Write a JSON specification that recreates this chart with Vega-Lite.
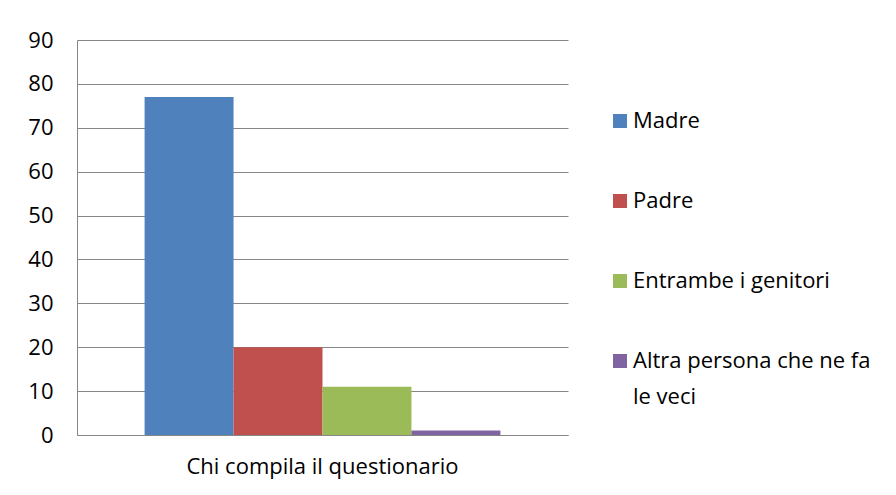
{
  "$schema": "https://vega.github.io/schema/vega-lite/v6.json",
  "autosize": {"type": "none"},
  "padding": {"left": 77, "top": 40, "right": 328, "bottom": 60},
  "width": 491,
  "height": 395,
  "background": "white",
  "data": {
    "values": [
      {"gruppo": "Chi compila il questionario", "chi": "Madre", "valore": 77},
      {"gruppo": "Chi compila il questionario", "chi": "Padre", "valore": 20},
      {"gruppo": "Chi compila il questionario", "chi": "Entrambe i genitori", "valore": 11},
      {"gruppo": "Chi compila il questionario", "chi": "Altra persona che ne fa le veci", "valore": 1}
    ]
  },
  "mark": {"type": "bar"},
  "encoding": {
    "x": {
      "field": "gruppo",
      "type": "nominal",
      "scale": {"paddingInner": 0, "paddingOuter": 0.19},
      "axis": {
        "title": null,
        "labelAngle": 0,
        "ticks": false,
        "domainColor": "#868686",
        "labelPadding": 21,
        "labelFont": "Open Sans",
        "labelFontSize": 22,
        "labelColor": "#000000",
        "labelLimit": 500
      }
    },
    "xOffset": {
      "field": "chi",
      "type": "nominal",
      "sort": ["Madre", "Padre", "Entrambe i genitori", "Altra persona che ne fa le veci"],
      "scale": {"paddingInner": 0, "paddingOuter": 0}
    },
    "y": {
      "field": "valore",
      "type": "quantitative",
      "scale": {"domain": [0, 90]},
      "axis": {
        "title": null,
        "values": [0, 10, 20, 30, 40, 50, 60, 70, 80, 90],
        "ticks": false,
        "grid": true,
        "gridColor": "#868686",
        "domainColor": "#868686",
        "labelPadding": 24,
        "labelFont": "Open Sans",
        "labelFontSize": 22,
        "labelColor": "#000000"
      }
    },
    "color": {
      "field": "chi",
      "type": "nominal",
      "sort": ["Madre", "Padre", "Entrambe i genitori", "Altra persona che ne fa le veci"],
      "scale": {
        "domain": ["Madre", "Padre", "Entrambe i genitori", "Altra persona che ne fa le veci"],
        "range": ["#4F81BD", "#C0504D", "#9BBB59", "#8064A2"]
      },
      "legend": {
        "title": null,
        "orient": "none",
        "legendX": 532,
        "legendY": 70,
        "symbolType": "square",
        "symbolSize": 196,
        "symbolStrokeWidth": 0,
        "symbolOpacity": 1,
        "labelFont": "Open Sans",
        "labelFontSize": 22,
        "labelColor": "#000000",
        "labelOffset": 2,
        "labelLimit": 400,
        "rowPadding": 58,
        "labelExpr": "datum.label == 'Altra persona che ne fa le veci' ? ['Altra persona che ne fa', 'le veci'] : datum.label"
      }
    }
  },
  "config": {
    "view": {"stroke": null},
    "style": {"guide-label": {"lineHeight": 36}}
  }
}
